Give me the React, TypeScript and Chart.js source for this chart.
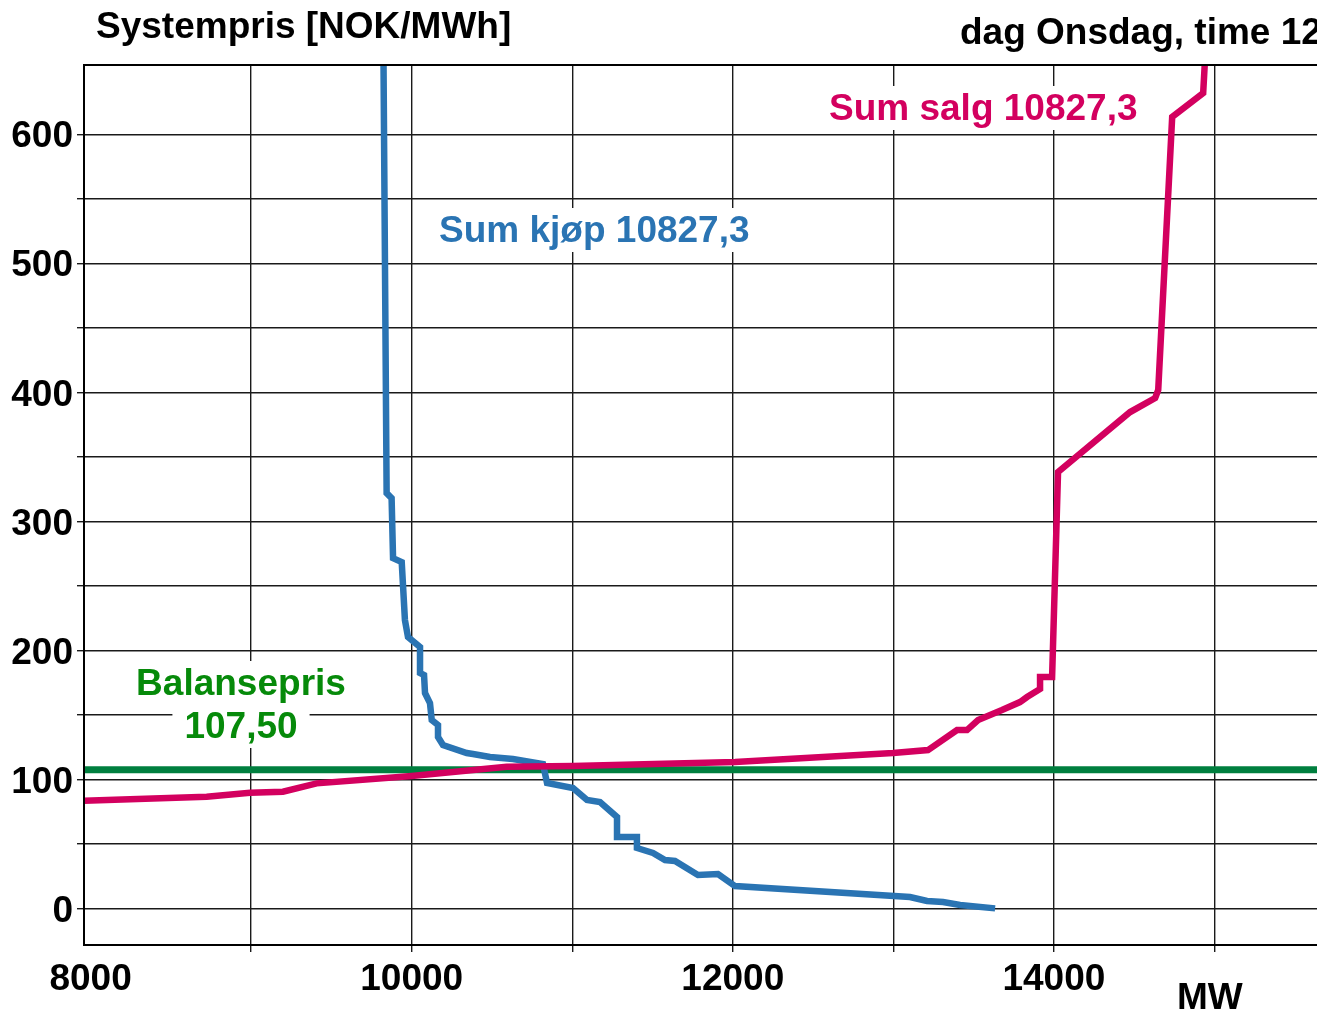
import React, { useEffect, useRef } from 'react';
import { Chart, registerables } from 'chart.js';

Chart.register(...registerables);

// ---- data ----
const demandMW = [
  9822, 9844, 9875, 9884, 9938, 9958, 9977, 10052, 10052, 10077, 10083, 10114, 10125,
  10164, 10164, 10195, 10343, 10382, 10488, 10631, 10818, 10843, 11005, 11092, 11173,
  11279, 11279, 11403, 11403, 11503, 11578, 11640, 11783, 11908, 12014, 13104, 13210,
  13310, 13416, 13634,
];
const demandPrice = [
  700, 321.9, 318, 271.5, 268.4, 223.5, 210.3, 202.6, 182.4, 180.9, 166.9, 159.1, 146,
  142.1, 132.8, 126.6, 120.4, 119.6, 117.3, 115.7, 111.9, 97.2, 93.3, 84, 82.4,
  70.8, 55.3, 55.3, 46.8, 42.9, 37.5, 36.7, 25.8, 26.6, 17.3, 8.8, 5.7,
  4.9, 2.6, 0,
];
const supplyMW = [
  7950, 8723, 8993, 9198, 9408, 10000, 10592, 11005, 12014, 12998, 13216, 13397, 13459,
  13528, 13677, 13789, 13833, 13914, 13914, 13989, 14026, 14475, 14631, 14650, 14737,
  14930, 14960,
];
const supplyPrice = [
  83.4, 86.5, 89.6, 90.4, 96.9, 102.6, 109.8, 110.3, 113.4, 120.4, 122.7, 138.2, 138.2,
  146, 153.7, 159.9, 163.8, 170, 179.3, 179.3, 338.2, 384.7, 395.6, 401.8, 613.4,
  632, 700,
];
const balancePrice = 107.5;

const xMin = 7959;
const xMax = 15720;
const yMin = -28.4;
const yMax = 653.7;

const xGridTicks = [8000, 9000, 10000, 11000, 12000, 13000, 14000, 15000];
const xLabelTicks = [8000, 10000, 12000, 14000];
const yGridTicks = [0, 50, 100, 150, 200, 250, 300, 350, 400, 450, 500, 550, 600];
const yLabelTicks = [0, 100, 200, 300, 400, 500, 600];

const titleText = 'Systempris [NOK/MWh]';
const subtitleText = 'dag Onsdag, time 12';
const unitText = 'MW';
const demandLabel = 'Sum kjøp 10827,3';
const supplyLabel = 'Sum salg 10827,3';
const balanceLabel1 = 'Balansepris';
const balanceLabel2 = '107,50';

const BLUE = '#2a74b3';
const MAGENTA = '#d3005f';
const GREEN_LINE = '#007f3f';
const GREEN_TEXT = '#068a0a';
const GRID = '#1a1a1a';
const FONT_FAMILY = "'Liberation Sans', Arial, Helvetica, sans-serif";
const FONT = `bold 37px ${FONT_FAMILY}`;

const decorPlugin = {
  id: 'decor',
  beforeDatasetsDraw(chart: any) {
    const ctx = chart.ctx as CanvasRenderingContext2D;
    ctx.save();
    ctx.font = FONT;
    ctx.textBaseline = 'alphabetic';
    const items = [
      { text: demandLabel, x: 439, y: 242, align: 'left', color: BLUE },
      { text: supplyLabel, x: 829, y: 120, align: 'left', color: MAGENTA },
      { text: balanceLabel1, x: 241, y: 695, align: 'center', color: GREEN_TEXT },
      { text: balanceLabel2, x: 241, y: 738, align: 'center', color: GREEN_TEXT },
    ];
    items.forEach((it) => {
      const w = ctx.measureText(it.text).width;
      const x0 = it.align === 'center' ? it.x - w / 2 : it.x;
      ctx.fillStyle = '#ffffff';
      ctx.fillRect(x0 - 12, it.y - 34, w + 24, 44);
    });
    items.forEach((it) => {
      const w = ctx.measureText(it.text).width;
      const x0 = it.align === 'center' ? it.x - w / 2 : it.x;
      ctx.fillStyle = it.color;
      ctx.fillText(it.text, x0, it.y);
    });
    ctx.restore();
  },
  afterDraw(chart: any) {
    const ctx = chart.ctx as CanvasRenderingContext2D;
    const a = chart.chartArea;
    ctx.save();
    ctx.strokeStyle = '#000';
    ctx.lineWidth = 2;
    ctx.beginPath();
    ctx.moveTo(a.right + 5, a.top);
    ctx.lineTo(a.left, a.top);
    ctx.lineTo(a.left, a.bottom);
    ctx.lineTo(a.right + 5, a.bottom);
    ctx.stroke();

    ctx.fillStyle = '#000';
    ctx.font = FONT;
    ctx.textBaseline = 'alphabetic';
    ctx.textAlign = 'left';
    ctx.fillText(titleText, 96, 38);
    ctx.fillText(subtitleText, 960, 44);
    ctx.fillText(unitText, 1177, 1009);
    ctx.restore();
  },
};

export default function App() {
  const ref = useRef<HTMLCanvasElement | null>(null);

  useEffect(() => {
    if (!ref.current) return;
    const demand = demandMW.map((x, i) => ({ x, y: demandPrice[i] }));
    const supply = supplyMW.map((x, i) => ({ x, y: supplyPrice[i] }));
    const balance = [
      { x: xMin, y: balancePrice },
      { x: xMax, y: balancePrice },
    ];
    const tickFont = { family: FONT_FAMILY, size: 37, weight: 'bold' as const };
    const chart = new Chart(ref.current, {
      type: 'line',
      data: {
        datasets: [
          {
            label: 'Sum salg',
            data: supply,
            borderColor: MAGENTA,
            borderWidth: 6.5,
            pointRadius: 0,
            tension: 0,
            fill: false,
            clip: 0,
            order: 0,
          },
          {
            label: 'Sum kjøp',
            data: demand,
            borderColor: BLUE,
            borderWidth: 6.5,
            pointRadius: 0,
            tension: 0,
            fill: false,
            clip: 0,
            order: 1,
          },
          {
            label: 'Balansepris',
            data: balance,
            borderColor: GREEN_LINE,
            borderWidth: 7,
            pointRadius: 0,
            tension: 0,
            fill: false,
            clip: 0,
            order: 2,
          },
        ],
      },
      options: {
        animation: false,
        responsive: false,
        maintainAspectRatio: false,
        devicePixelRatio: 1,
        layout: { padding: { left: 0, top: 65, right: 10, bottom: 0 } },
        plugins: {
          legend: { display: false },
          tooltip: { enabled: false },
          title: { display: false },
        },
        scales: {
          x: {
            type: 'linear',
            min: xMin,
            max: xMax,
            afterBuildTicks: (s: any) => {
              s.ticks = xGridTicks.map((v) => ({ value: v }));
            },
            afterFit: (s: any) => {
              s.height = 67;
            },
            ticks: {
              autoSkip: false,
              maxRotation: 0,
              minRotation: 0,
              padding: 6,
              color: '#000',
              font: tickFont,
              callback: (v: any) => (xLabelTicks.includes(Number(v)) ? String(v) : ''),
            },
            grid: {
              color: (c: any) => (c.tick && c.tick.value === 8000 ? 'rgba(0,0,0,0)' : GRID),
              lineWidth: 1.4,
              tickLength: 7,
              drawTicks: true,
            },
            border: { display: false },
          },
          y: {
            type: 'linear',
            min: yMin,
            max: yMax,
            afterBuildTicks: (s: any) => {
              s.ticks = yGridTicks.map((v) => ({ value: v }));
            },
            afterFit: (s: any) => {
              s.width = 84;
            },
            ticks: {
              autoSkip: false,
              padding: 4,
              labelOffset: 3,
              color: '#000',
              font: tickFont,
              callback: (v: any) => (yLabelTicks.includes(Number(v)) ? String(v) : ''),
            },
            grid: {
              color: GRID,
              lineWidth: 1.4,
              tickLength: 7,
              drawTicks: true,
            },
            border: { display: false },
          },
        },
      },
      plugins: [decorPlugin],
    } as any);
    return () => chart.destroy();
  }, []);

  return (
    <div
      style={{
        position: 'fixed',
        left: 0,
        top: 0,
        width: 1317,
        height: 1012,
        overflow: 'hidden',
        background: '#fff',
      }}
    >
      <canvas ref={ref} width={1340} height={1012} style={{ display: 'block', width: 1340, height: 1012 }} />
    </div>
  );
}
